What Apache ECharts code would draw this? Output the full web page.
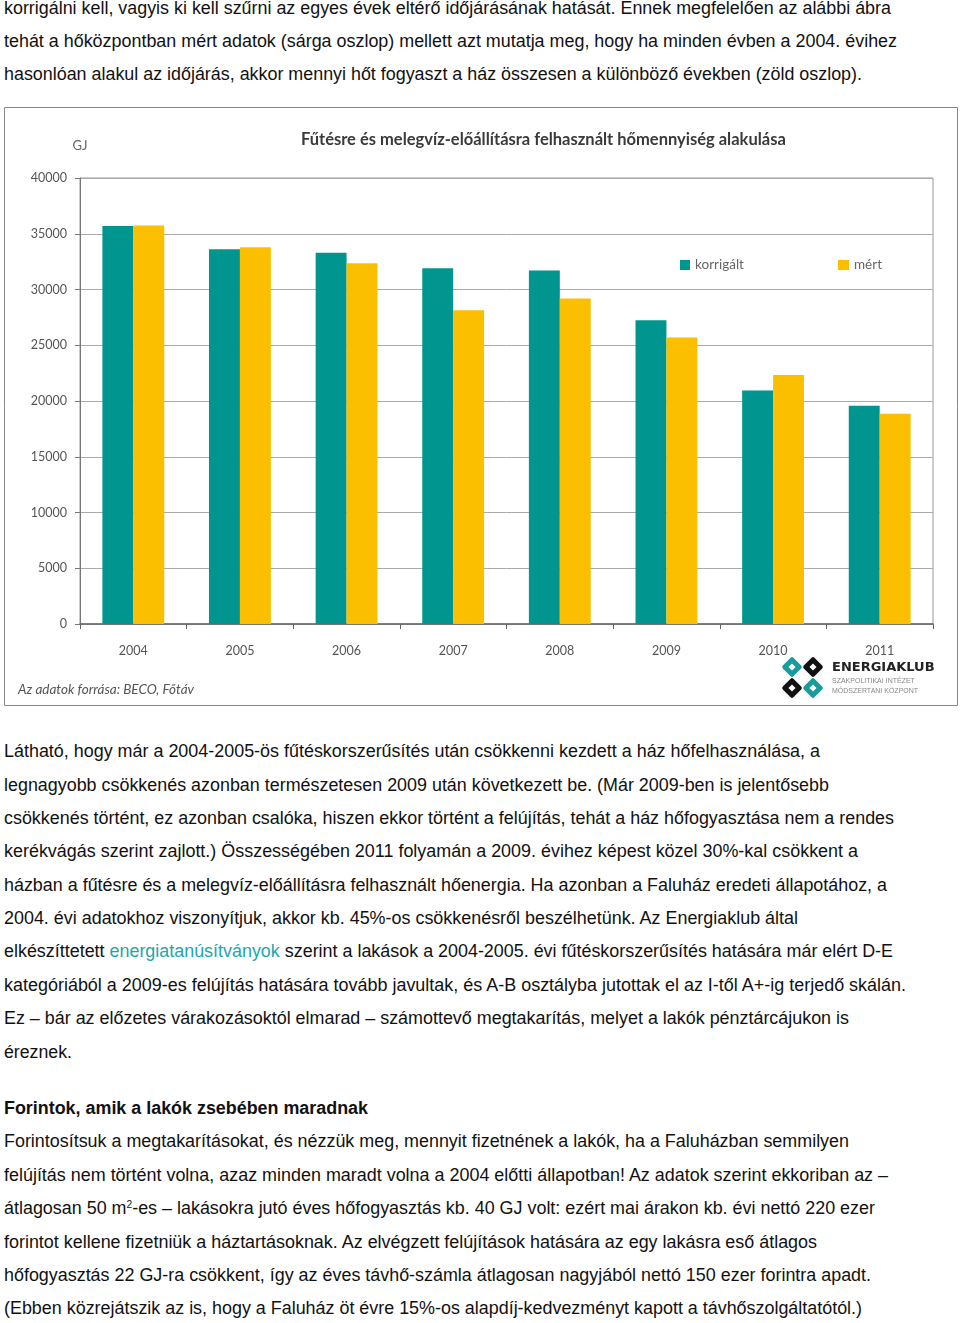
<!DOCTYPE html>
<html>
<head>
<meta charset="utf-8">
<script src="https://cdn.jsdelivr.net/npm/echarts@6/dist/echarts.min.js"></script>
<style>
html,body{margin:0;padding:0;background:#fff;}
body{width:960px;height:1323px;position:relative;overflow:hidden;}
.ln{position:absolute;left:4px;white-space:nowrap;font-family:"Liberation Sans",Arial,Helvetica,sans-serif;font-size:17.5px;line-height:20px;color:#111;transform-origin:0 50%;}
.ln b{font-weight:bold;}
.lk{color:#1ea5ad;}
sup{font-size:10px;line-height:0;vertical-align:6px;}
#chart{position:absolute;left:0;top:100px;width:960px;height:612px;}
</style>
</head>
<body>
<div id="chart"></div>
<script>
// ---- chart data ----
const years = ['2004', '2005', '2006', '2007', '2008', '2009', '2010', '2011'];
const korrigalt = [35700, 33600, 33300, 31900, 31700, 27250, 20950, 19580];
const mert = [35750, 33780, 32350, 28150, 29200, 25700, 22330, 18850];
const yTicks = { min: 0, max: 40000, interval: 5000 };
const chartTitle = 'Fűtésre és melegvíz-előállításra felhasznált hőmennyiség alakulása';
const sourceText = 'Az adatok forrása: BECO, Főtáv';
const unitLabel = 'GJ';

// ---- document text lines: [centerY, targetRightX, html] ----
const lines = [
  [8, 891, 'korrigálni kell, vagyis ki kell szűrni az egyes évek eltérő időjárásának hatását. Ennek megfelelően az alábbi ábra'],
  [41, 897, 'tehát a hőközpontban mért adatok (sárga oszlop) mellett azt mutatja meg, hogy ha minden évben a 2004. évihez'],
  [74, 862, 'hasonlóan alakul az időjárás, akkor mennyi hőt fogyaszt a ház összesen a különböző években (zöld oszlop).'],
  [751, 820, 'Látható, hogy már a 2004-2005-ös fűtéskorszerűsítés után csökkenni kezdett a ház hőfelhasználása, a'],
  [785, 829, 'legnagyobb csökkenés azonban természetesen 2009 után következett be. (Már 2009-ben is jelentősebb'],
  [818, 894, 'csökkenés történt, ez azonban csalóka, hiszen ekkor történt a felújítás, tehát a ház hőfogyasztása nem a rendes'],
  [851, 858, 'kerékvágás szerint zajlott.) Összességében 2011 folyamán a 2009. évihez képest közel 30%-kal csökkent a'],
  [885, 887, 'házban a fűtésre és a melegvíz-előállításra felhasznált hőenergia. Ha azonban a Faluház eredeti állapotához, a'],
  [918, 798, '2004. évi adatokhoz viszonyítjuk, akkor kb. 45%-os csökkenésről beszélhetünk. Az Energiaklub által'],
  [951, 893, 'elkészíttetett <span class="lk">energiatanúsítványok</span> szerint a lakások a 2004-2005. évi fűtéskorszerűsítés hatására már elért D-E'],
  [985, 906, 'kategóriából a 2009-es felújítás hatására tovább javultak, és A-B osztályba jutottak el az I-től A+-ig terjedő skálán.'],
  [1018, 849, 'Ez – bár az előzetes várakozásoktól elmarad – számottevő megtakarítás, melyet a lakók pénztárcájukon is'],
  [1052, 72, 'éreznek.'],
  [1108, 368, '<b>Forintok, amik a lakók zsebében maradnak</b>'],
  [1141, 849, 'Forintosítsuk a megtakarításokat, és nézzük meg, mennyit fizetnének a lakók, ha a Faluházban semmilyen'],
  [1175, 888, 'felújítás nem történt volna, azaz minden maradt volna a 2004 előtti állapotban! Az adatok szerint ekkoriban az –'],
  [1208, 875, 'átlagosan 50 m<sup>2</sup>-es – lakásokra jutó éves hőfogyasztás kb. 40 GJ volt: ezért mai árakon kb. évi nettó 220 ezer'],
  [1242, 817, 'forintot kellene fizetniük a háztartásoknak. Az elvégzett felújítások hatására az egy lakásra eső átlagos'],
  [1275, 871, 'hőfogyasztás 22 GJ-ra csökkent, így az éves távhő-számla átlagosan nagyjából nettó 150 ezer forintra apadt.'],
  [1308, 862, '(Ebben közrejátszik az is, hogy a Faluház öt évre 15%-os alapdíj-kedvezményt kapott a távhőszolgáltatótól.)']
];

lines.forEach(function (l) {
  const d = document.createElement('div');
  d.className = 'ln';
  d.style.top = (l[0] - 10) + 'px';
  d.innerHTML = l[2];
  document.body.appendChild(d);
  const w = d.getBoundingClientRect().width;
  const target = l[1] - 4;
  if (w > 0) d.style.transform = 'scaleX(' + (target / w).toFixed(4) + ')';
});

// ---- chart ----
const chart = echarts.init(document.getElementById('chart'), null, { renderer: 'canvas' });
const teal = '#00968f';
const yellow = '#fcbf00';
const font = 'Lato, "Open Sans", sans-serif';

function diamond(cx, cy, color) {
  return [
    { type: 'rect', x: cx, y: cy, rotation: Math.PI / 4,
      shape: { x: -7.5, y: -7.5, width: 15, height: 15, r: 2 }, style: { fill: color } },
    { type: 'rect', x: cx, y: cy, rotation: Math.PI / 4,
      shape: { x: -2.5, y: -2.5, width: 5, height: 5 }, style: { fill: '#fff' } }
  ];
}

const option = {
  animation: false,
  textStyle: { fontFamily: font },
  title: {
    text: chartTitle,
    left: 296, top: 26,
    textStyle: { fontFamily: font, fontSize: 16.5, fontWeight: 'bold', color: '#3a3a3a' }
  },
  legend: [
    { data: ['korrigált'], left: 675, top: 153, itemWidth: 10, itemHeight: 10, icon: 'rect',
      textStyle: { fontFamily: font, fontSize: 13.5, color: '#666' }, itemGap: 4 },
    { data: ['mért'], left: 833, top: 153, itemWidth: 11, itemHeight: 10, icon: 'rect',
      textStyle: { fontFamily: font, fontSize: 13.5, color: '#666' } }
  ],
  grid: { left: 80, right: 27, top: 78, bottom: 88, show: true, borderColor: '#999', borderWidth: 1 },
  xAxis: {
    type: 'category', data: years,
    axisLine: { lineStyle: { color: '#666', width: 1.5 } },
    axisTick: { show: true, length: 5, lineStyle: { color: '#666' } },
    axisLabel: { margin: 20, fontSize: 12.5, color: '#555', fontFamily: font }
  },
  yAxis: {
    type: 'value', min: yTicks.min, max: yTicks.max, interval: yTicks.interval,
    name: unitLabel, nameLocation: 'end', nameGap: 26,
    nameTextStyle: { fontSize: 13, color: '#666', fontFamily: font, align: 'center' },
    axisLine: { show: true, lineStyle: { color: '#777' } },
    axisTick: { show: true, length: 5, lineStyle: { color: '#777' } },
    axisLabel: { margin: 13, fontSize: 12.5, color: '#555', fontFamily: font,
      formatter: function (v) { return String(v); } },
    splitLine: { lineStyle: { color: '#aaa' } }
  },
  series: [
    { name: 'korrigált', type: 'bar', data: korrigalt, barGap: '0%', barCategoryGap: '42%',
      itemStyle: { color: teal } },
    { name: 'mért', type: 'bar', data: mert, barGap: '0%', barCategoryGap: '42%',
      itemStyle: { color: yellow } }
  ],
  graphic: [
    { type: 'rect', shape: { x: 4.5, y: 7.5, width: 953, height: 598 },
      style: { fill: 'none', stroke: '#888', lineWidth: 1 }, z: -1 },
    { type: 'text', left: 18, top: 583,
      style: { text: sourceText, fontFamily: font, fontStyle: 'italic', fontSize: 13.5, fill: '#555' } },
    { type: 'group', children: [].concat(
      diamond(792, 567, '#1a9c9a'), diamond(813, 567, '#111'),
      diamond(792, 588, '#111'), diamond(813, 588, '#1a9c9a')) },
    { type: 'text', left: 832, top: 561,
      style: { text: 'ENERGIAKLUB', fontFamily: '"DejaVu Sans", sans-serif', fontWeight: 'bold', fontSize: 13, fill: '#222' } },
    { type: 'text', left: 832, top: 578,
      style: { text: 'SZAKPOLITIKAI INTÉZET', fontFamily: '"Liberation Sans", sans-serif', fontSize: 7, fill: '#888' } },
    { type: 'text', left: 832, top: 588,
      style: { text: 'MÓDSZERTANI KÖZPONT', fontFamily: '"Liberation Sans", sans-serif', fontSize: 7, fill: '#888' } }
  ]
};
chart.setOption(option);
</script>
</body>
</html>
